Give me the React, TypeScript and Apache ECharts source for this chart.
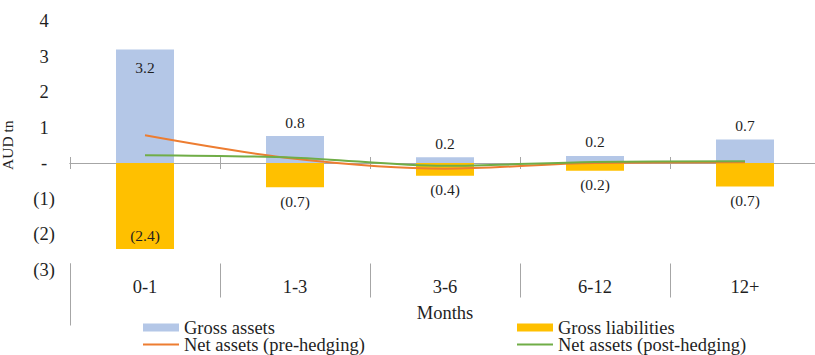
import React, { useEffect, useRef } from "react";
import * as echarts from "echarts";

const categories = ["0-1", "1-3", "3-6", "6-12", "12+"];
const grossAssets = [3.2, 0.76, 0.16, 0.2, 0.66];
const grossLiabilities = [-2.42, -0.68, -0.36, -0.22, -0.66];
const netPreHedging = [0.78, 0.12, -0.16, 0.0, 0.02];
const netPostHedging = [0.22, 0.15, -0.08, 0.03, 0.05];
const yTicks = { min: -3, max: 4, interval: 1 };

const FONT = "Liberation Serif";
const TXT = "#1f1f1f";
const AXIS = "#a6a6a6";
const LINE_ICON = "path://M0,0L0,0M0,3H36V5H0ZM36,8L36,8";

const fmt = (v: number) =>
  v < 0 ? `(${Math.abs(v).toFixed(1)})` : v.toFixed(1);

export default function App() {
  const ref = useRef<HTMLDivElement>(null);
  useEffect(() => {
    if (!ref.current) return;
    const chart = echarts.init(ref.current, undefined, { renderer: "svg" });
    const labelBase = {
      show: true,
      fontFamily: FONT,
      fontSize: 15.5,
      color: TXT,
      formatter: (p: any) => fmt(p.value),
    };
    const legendBase = {
      orient: "vertical",
      top: 318,
      height: 80,
      itemWidth: 36,
      itemHeight: 8,
      itemGap: -2,
      padding: 0,
      textStyle: { fontFamily: FONT, fontSize: 18.5, color: TXT, lineHeight: 17 },
    };
    chart.setOption({
      animation: false,
      textStyle: { fontFamily: FONT, color: TXT },
      grid: {
        left: 70,
        right: -5,
        top: 21,
        bottom: 85.5,
        containLabel: false,
        outerBoundsMode: "none",
      },
      legend: [
        {
          ...legendBase,
          left: 143,
          data: [
            { name: "Gross assets", icon: "rect" },
            { name: "Net assets (pre-hedging)", icon: LINE_ICON },
          ],
        },
        {
          ...legendBase,
          left: 517,
          data: [
            { name: "Gross liabilities", icon: "rect" },
            { name: "Net assets (post-hedging)", icon: LINE_ICON },
          ],
        },
      ],
      xAxis: [
        {
          type: "category",
          data: categories,
          position: "bottom",
          axisLine: { show: true, onZero: true, onZeroAxisIndex: 0, lineStyle: { color: AXIS, width: 1 } },
          axisTick: { show: true, length: 6, lineStyle: { color: AXIS } },
          axisLabel: { show: false },
          splitLine: { show: false },
        },
        {
          type: "category",
          data: categories,
          position: "top",
          axisLine: { show: true, onZero: true, onZeroAxisIndex: 1, lineStyle: { color: AXIS, width: 1 } },
          axisTick: { show: true, length: 6, lineStyle: { color: AXIS } },
          axisLabel: { show: false },
          splitLine: { show: false },
        },
        {
          type: "category",
          data: categories,
          position: "bottom",
          offset: -6,
          axisLine: { show: false, onZero: false },
          axisTick: { show: true, length: 34, lineStyle: { color: AXIS } },
          axisLabel: { show: true, margin: 14, fontSize: 18.5, color: TXT, fontFamily: FONT },
          name: "Months",
          nameLocation: "middle",
          nameGap: 40,
          nameTextStyle: { fontSize: 18.5, color: TXT, fontFamily: FONT },
          splitLine: { show: false },
        },
        {
          type: "value",
          min: 0,
          max: 1,
          interval: 1,
          position: "bottom",
          offset: -6,
          axisLine: { show: false, onZero: false },
          axisTick: { show: true, length: 62, lineStyle: { color: AXIS } },
          axisLabel: { show: false },
          splitLine: { show: false },
        },
      ],
      yAxis: [
        {
          type: "value",
          min: yTicks.min,
          max: yTicks.max,
          interval: yTicks.interval,
          axisLine: { show: false, onZero: false },
          axisTick: { show: false },
          splitLine: { show: false },
          axisLabel: {
            align: "center",
            margin: 26,
            fontSize: 18.5,
            color: TXT,
            fontFamily: FONT,
            formatter: (v: number) =>
              v === 0 ? "-" : v < 0 ? `(${Math.abs(v)})` : `${v}`,
          },
          name: "AUD tn",
          nameLocation: "middle",
          nameGap: 55,
          nameRotate: 90,
          nameTextStyle: { fontSize: 15.5, color: TXT, fontFamily: FONT },
        },
        {
          type: "value",
          min: yTicks.min,
          max: yTicks.max,
          interval: yTicks.interval,
          position: "right",
          axisLine: { show: false, onZero: false },
          axisTick: { show: false },
          axisLabel: { show: false },
          splitLine: { show: false },
        },
      ],
      series: [
        {
          name: "Gross assets",
          type: "bar",
          xAxisIndex: 0,
          yAxisIndex: 0,
          barWidth: 58,
          barGap: "-100%",
          itemStyle: { color: "#b4c7e7" },
          data: grossAssets.map((v, i) => ({
            value: v,
            label:
              i === 0
                ? { ...labelBase, position: "insideTop", distance: 10 }
                : { ...labelBase, position: "top", distance: 6 },
          })),
        },
        {
          name: "Gross liabilities",
          type: "bar",
          xAxisIndex: 0,
          yAxisIndex: 0,
          barWidth: 58,
          barGap: "-100%",
          itemStyle: { color: "#ffc000" },
          data: grossLiabilities.map((v, i) => ({
            value: v,
            label:
              i === 0
                ? { ...labelBase, position: "insideBottom", distance: 5 }
                : { ...labelBase, position: "bottom", distance: 6 },
          })),
        },
        {
          name: "Net assets (pre-hedging)",
          type: "line",
          xAxisIndex: 0,
          yAxisIndex: 0,
          smooth: 0.35,
          symbol: "none",
          z: 5,
          lineStyle: { color: "#ed7d31", width: 2 },
          itemStyle: { color: "#ed7d31" },
          data: netPreHedging,
        },
        {
          name: "Net assets (post-hedging)",
          type: "line",
          xAxisIndex: 0,
          yAxisIndex: 0,
          smooth: 0.35,
          symbol: "none",
          z: 6,
          lineStyle: { color: "#70ad47", width: 2 },
          itemStyle: { color: "#70ad47" },
          data: netPostHedging,
        },
      ],
    });
    return () => chart.dispose();
  }, []);
  return (
    <div
      ref={ref}
      style={{ position: "absolute", left: 0, top: 0, width: 815, height: 355 }}
    />
  );
}
